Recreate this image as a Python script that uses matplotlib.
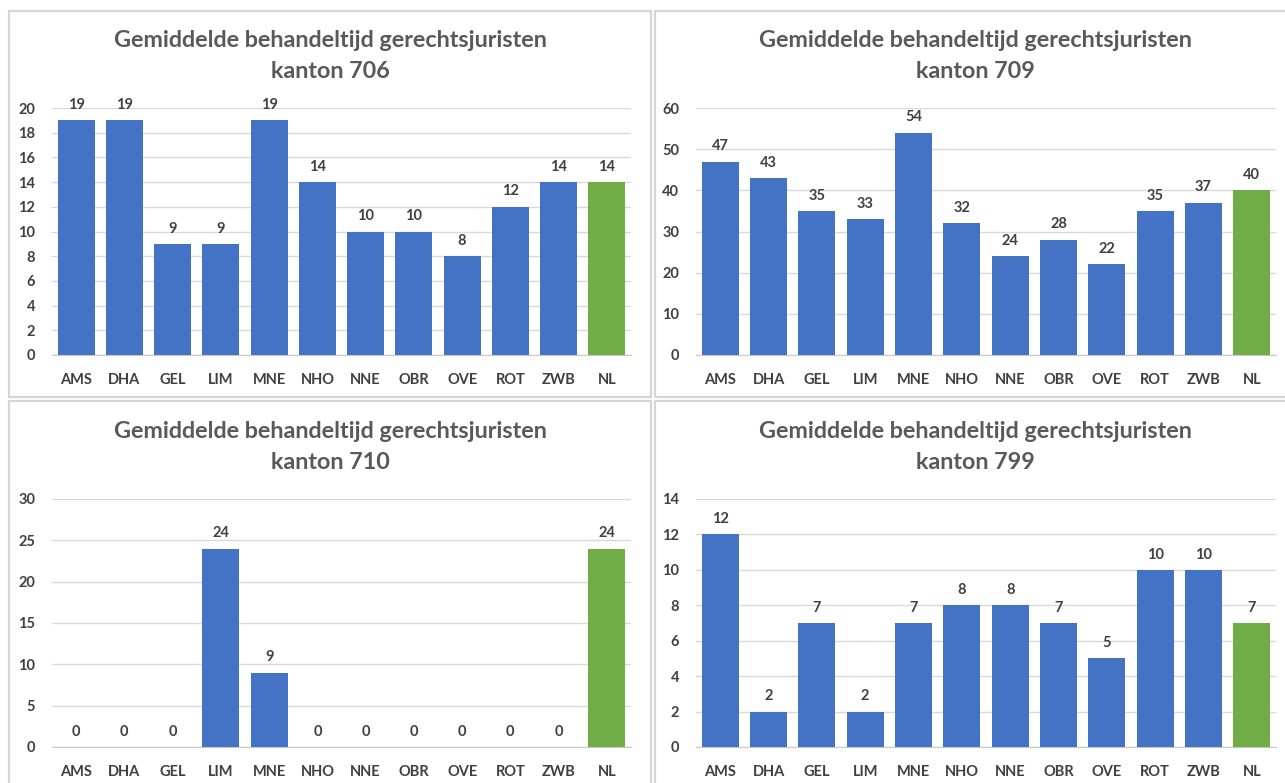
import matplotlib
matplotlib.use('Agg')
import matplotlib.pyplot as plt
from matplotlib.patches import Rectangle

# data
regios = ['AMS', 'DHA', 'GEL', 'LIM', 'MNE', 'NHO', 'NNE', 'OBR', 'OVE', 'ROT', 'ZWB', 'NL']
kanton_706 = [19, 19, 9, 9, 19, 14, 10, 10, 8, 12, 14, 14]
kanton_709 = [47, 43, 35, 33, 54, 32, 24, 28, 22, 35, 37, 40]
kanton_710 = [0, 0, 0, 24, 9, 0, 0, 0, 0, 0, 0, 24]
kanton_799 = [12, 2, 7, 2, 7, 8, 8, 7, 5, 10, 10, 7]

BLAUW = '#4472C4'
GROEN = '#70AD47'
GRID = '#d9d9d9'
TXT = '#404040'
TITEL = '#595959'

W, H = 1285, 783
plt.rcParams['font.family'] = ['Lato', 'DejaVu Sans']
fig = plt.figure(figsize=(W / 100, H / 100), dpi=100)


def px_axes(x0, y0, x1, y1):
    # pixel coords (top-left origin) -> figure axes
    return fig.add_axes([x0 / W, 1 - y1 / H, (x1 - x0) / W, (y1 - y0) / H])


def paneel(x0, y0, x1, y1):
    fig.patches.append(Rectangle((x0 / W, 1 - y1 / H), (x1 - x0) / W, (y1 - y0) / H,
                                 transform=fig.transFigure, fill=False,
                                 edgecolor='#d6d6d6', linewidth=1.6))


def grafiek(ax, waarden, ymax, stap, kanton, titel_x, titel_y):
    kleuren = [BLAUW] * (len(regios) - 1) + [GROEN]
    x = range(len(regios))
    bars = ax.bar(x, waarden, width=0.77, color=kleuren, zorder=3)
    for b, v in zip(bars, waarden):
        ax.annotate(str(v), (b.get_x() + b.get_width() / 2, v), xytext=(0, 6),
                    textcoords='offset points', ha='center', va='bottom',
                    fontsize=10.5, fontweight='bold', color=TXT)
    ax.set_xlim(-0.5, len(regios) - 0.5)
    ax.set_ylim(0, ymax)
    ax.set_yticks(range(0, ymax + 1, stap))
    ax.set_xticks(list(x))
    ax.set_xticklabels(regios)
    ax.tick_params(length=0, labelsize=10.5, labelcolor=TXT)
    ax.tick_params(axis='x', pad=13)
    ax.tick_params(axis='y', pad=12)
    for lab in ax.get_xticklabels() + ax.get_yticklabels():
        lab.set_fontweight('bold')
    ax.grid(axis='y', color=GRID, linewidth=1, zorder=0)
    for s in ['left', 'right', 'top']:
        ax.spines[s].set_visible(False)
    ax.spines['bottom'].set_color('#c8c8c8')
    ax.set_facecolor('none')
    fig.text(titel_x / W, 1 - titel_y / H,
             'Gemiddelde behandeltijd gerechtsjuristen\nkanton ' + kanton,
             ha='center', va='center', fontsize=16.8, fontweight='bold',
             color=TITEL, linespacing=1.6)


paneel(9, 11, 651, 397)
paneel(655, 11, 1300, 397)
paneel(9, 401, 651, 800)
paneel(655, 401, 1300, 800)

ax1 = px_axes(52, 108, 631, 355)
grafiek(ax1, kanton_706, 20, 2, '706', 330, 56)
ax2 = px_axes(696, 108, 1276, 355)
grafiek(ax2, kanton_709, 60, 10, '709', 975, 56)
ax3 = px_axes(52, 499, 631, 747)
grafiek(ax3, kanton_710, 30, 5, '710', 330, 447)
ax4 = px_axes(696, 499, 1276, 747)
grafiek(ax4, kanton_799, 14, 2, '799', 975, 447)

fig.savefig('out.png', dpi=100)
